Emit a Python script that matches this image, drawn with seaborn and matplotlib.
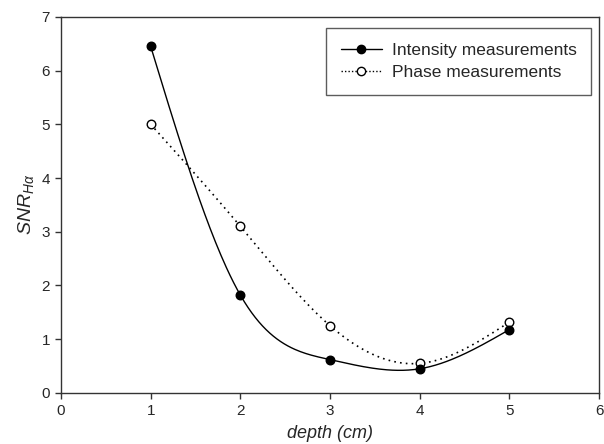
import matplotlib
matplotlib.use('Agg')
import matplotlib.pyplot as plt
from matplotlib.lines import Line2D
import numpy as np
import pandas as pd
import seaborn as sns

depth = [1, 2, 3, 4, 5]
intensity = [6.45, 1.82, 0.62, 0.45, 1.18]
phase = [5.0, 3.1, 1.25, 0.55, 1.32]


def natural_spline(x, y, n=200):
    # natural cubic spline through the points
    x = np.asarray(x, float)
    y = np.asarray(y, float)
    k = len(x)
    h = np.diff(x)
    A = np.zeros((k, k))
    b = np.zeros(k)
    A[0, 0] = A[-1, -1] = 1
    for i in range(1, k - 1):
        A[i, i - 1] = h[i - 1]
        A[i, i] = 2 * (h[i - 1] + h[i])
        A[i, i + 1] = h[i]
        b[i] = 6 * ((y[i + 1] - y[i]) / h[i] - (y[i] - y[i - 1]) / h[i - 1])
    M = np.linalg.solve(A, b)
    xs = np.linspace(x[0], x[-1], n)
    ys = np.empty_like(xs)
    for j, xv in enumerate(xs):
        i = min(np.searchsorted(x, xv, side='right') - 1, k - 2)
        t1 = x[i + 1] - xv
        t0 = xv - x[i]
        ys[j] = (M[i] * t1**3 + M[i + 1] * t0**3) / (6 * h[i]) \
            + (y[i] / h[i] - M[i] * h[i] / 6) * t1 \
            + (y[i + 1] / h[i] - M[i + 1] * h[i] / 6) * t0
    return xs, ys


sns.set_style('ticks')
plt.rcParams['font.family'] = ['Liberation Sans', 'DejaVu Sans']
plt.rcParams['mathtext.fontset'] = 'custom'
plt.rcParams['mathtext.it'] = 'Liberation Sans:italic'
plt.rcParams['mathtext.rm'] = 'Liberation Sans'

fig = plt.figure(figsize=(6.04, 4.44), dpi=100)
ax = fig.add_axes([0.101, 0.115, 0.891, 0.847])

xi, yi = natural_spline(depth, intensity)
xp, yp = natural_spline(depth, phase)
curves = pd.DataFrame({'x': xi, 'y': yi})
curvep = pd.DataFrame({'x': xp, 'y': yp})
sns.lineplot(data=curves, x='x', y='y', color='black', lw=1, ax=ax, sort=False)
sns.lineplot(data=curvep, x='x', y='y', color='black', lw=1.2, ls=(0, (1, 2.5)), ax=ax, sort=False)

pts = pd.DataFrame({'depth': depth, 'intensity': intensity, 'phase': phase})
sns.scatterplot(data=pts, x='depth', y='phase', marker='o', s=38, facecolor='white',
                edgecolor='black', linewidth=1, ax=ax, zorder=3)
sns.scatterplot(data=pts, x='depth', y='intensity', marker='o', s=38, color='black',
                edgecolor='black', linewidth=1, ax=ax, zorder=4)

ax.set_xlim(0, 6)
ax.set_ylim(0, 7)
ax.set_xticks(range(0, 7))
ax.set_yticks(range(0, 8))
ax.tick_params(direction='out', length=4, width=1, labelsize=11, color='#333333', pad=4)
for s in ax.spines.values():
    s.set_color('#333333')
    s.set_linewidth(1)
ax.set_xlabel('depth (cm)', style='italic', fontsize=13, labelpad=5)
ax.set_ylabel(r'$SNR_{H\alpha}$', fontsize=14, labelpad=4)

handles = [
    Line2D([], [], color='black', lw=1, marker='o', ms=6, mfc='black', mec='black'),
    Line2D([], [], color='black', lw=1, ls=(0, (1, 1.5)), marker='o', ms=6, mfc='white', mec='black'),
]
leg = ax.legend(handles, ['Intensity measurements', 'Phase measurements'], loc='upper right',
                bbox_to_anchor=(0.992, 0.98), fontsize=12.5, frameon=True, fancybox=False,
                edgecolor='#333333', handlelength=2.4, handletextpad=0.55, borderpad=0.85,
                labelspacing=0.4, borderaxespad=0.2)
leg.get_frame().set_linewidth(1)

fig.savefig('out.png', dpi=100)
